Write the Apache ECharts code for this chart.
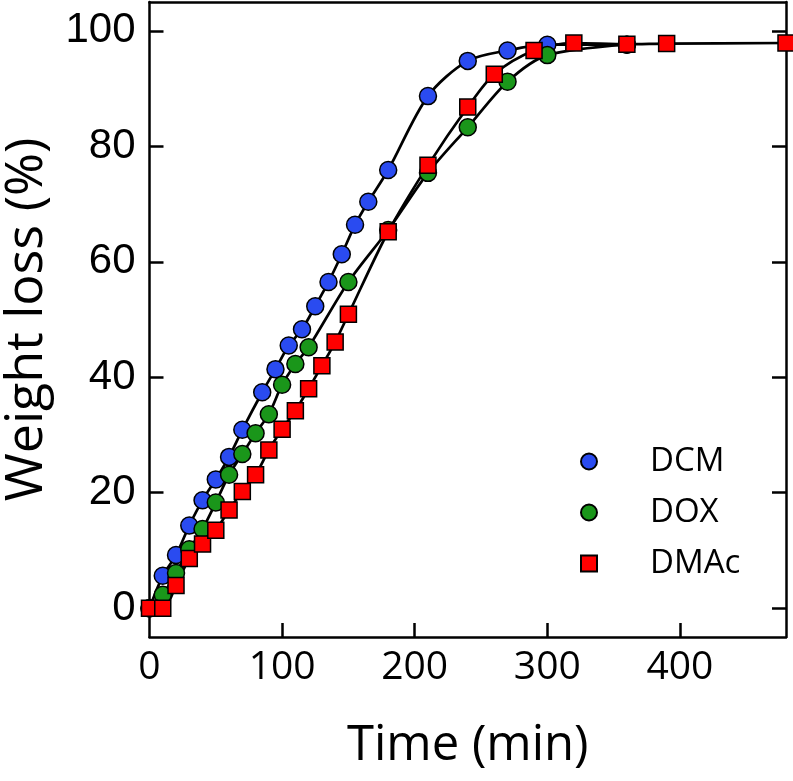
<!DOCTYPE html>
<html>
<head>
<meta charset="utf-8">
<script src="https://cdn.jsdelivr.net/npm/echarts@6/dist/echarts.min.js"></script>
<style>
  html, body { margin: 0; padding: 0; background: #fff; }
  #chart { width: 793px; height: 781px; }
</style>
</head>
<body>
<div id="chart"></div>
<script>
  // values (time in min, weight loss in %)
  const dcmTime = [0, 10, 20, 30, 40, 50, 60, 70, 85, 95, 105, 115, 125, 135, 145, 155, 165, 180, 210, 240, 270, 300, 360]
  const dcmLoss = [0, 5.6, 9.2, 14.3, 18.7, 22.3, 26.2, 30.9, 37.4, 41.4, 45.5, 48.3, 52.3, 56.5, 61.3, 66.4, 70.4, 75.9, 88.7, 94.8, 96.6, 97.6, 97.6]

  const doxTime = [0, 10, 20, 30, 40, 50, 60, 70, 80, 90, 100, 110, 120, 150, 180, 210, 240, 270, 300, 360]
  const doxLoss = [0, 2.3, 6.1, 10.2, 13.7, 18.3, 23.1, 26.7, 30.3, 33.6, 38.7, 42.3, 45.2, 56.5, 65.5, 75.4, 83.3, 91.2, 95.8, 97.6]

  const dmacTime = [0, 10, 20, 30, 40, 50, 60, 70, 80, 90, 100, 110, 120, 130, 140, 150, 180, 210, 240, 260, 290, 320, 360, 390, 480]
  const dmacLoss = [0, 0, 3.9, 8.6, 11.1, 13.5, 17.0, 20.2, 23.1, 27.4, 31.0, 34.2, 38.0, 42.0, 46.1, 50.9, 65.2, 76.7, 86.8, 92.5, 96.6, 97.9, 97.7, 97.8, 97.9]

  const xTicks = [0, 100, 200, 300, 400]
  const yTicks = [0, 20, 40, 60, 80, 100]

  function pairs(xs, ys) {
    return xs.map((x, i) => [x, ys[i]])
  }

  const black = '#000'
  const axisLine = { show: true, onZero: false, lineStyle: { color: black, width: 2.5 } }
  const squareIcon = 'path://M0,0L10,0L10,10L0,10Z'

  function makeSeries(name, xs, ys, symbol, size, color) {
    return {
      name: name,
      type: 'line',
      data: pairs(xs, ys),
      smooth: 0.3,
      clip: false,
      symbol: symbol,
      symbolSize: size,
      showAllSymbol: true,
      itemStyle: { color: color, borderColor: black, borderWidth: 1.5 },
      lineStyle: { color: black, width: 2.7 },
    }
  }

  const chart = echarts.init(document.getElementById('chart'))
  chart.setOption({
    animation: false,
    backgroundColor: '#fff',
    grid: { left: 149.5, right: 7, top: 2, bottom: 144, outerBoundsMode: 'none', containLabel: false },
    legend: {
      orient: 'vertical',
      left: 580,
      top: 445,
      padding: 0,
      itemWidth: 16,
      itemHeight: 16,
      itemGap: 18,
      textStyle: { fontFamily: 'Open Sans', fontSize: 33, color: black, lineHeight: 32, padding: [0, 0, 0, 48] },
      data: [
        { name: 'DCM', icon: 'circle' },
        { name: 'DOX', icon: 'circle' },
        { name: 'DMAc', icon: squareIcon },
      ],
    },
    xAxis: [
      {
        type: 'value',
        min: 0,
        max: 480,
        axisLine: axisLine,
        axisTick: { show: true, inside: true, length: 14, customValues: [100, 200, 300, 400], lineStyle: { color: black, width: 2.5 } },
        axisLabel: { customValues: xTicks, fontFamily: 'Open Sans', fontSize: 39, color: black, margin: 11 },
        splitLine: { show: false },
        name: 'Time (min)',
        nameLocation: 'middle',
        nameGap: 85,
        nameTextStyle: { fontFamily: 'Open Sans', fontSize: 49, color: black },
      },
      {
        type: 'value',
        position: 'top',
        min: 0,
        max: 480,
        axisLine: axisLine,
        axisTick: { show: false },
        axisLabel: { show: false },
        splitLine: { show: false },
      },
    ],
    yAxis: [
      {
        type: 'value',
        min: -5,
        max: 105,
        axisLine: axisLine,
        axisTick: { show: true, inside: true, length: 14, customValues: yTicks, lineStyle: { color: black, width: 2.5 } },
        axisLabel: { customValues: yTicks, fontFamily: 'Liberation Sans', fontSize: 42, color: black, margin: 14 },
        splitLine: { show: false },
        name: 'Weight loss (%)',
        nameLocation: 'middle',
        nameGap: 96,
        nameTextStyle: { fontFamily: 'Open Sans', fontSize: 52, color: black },
      },
      {
        type: 'value',
        position: 'right',
        min: -5,
        max: 105,
        axisLine: axisLine,
        axisTick: { show: true, inside: true, length: 14, customValues: yTicks, lineStyle: { color: black, width: 2.5 } },
        axisLabel: { show: false },
        splitLine: { show: false },
      },
    ],
    series: [
      makeSeries('DCM', dcmTime, dcmLoss, 'circle', 17, '#2a4bf0'),
      makeSeries('DOX', doxTime, doxLoss, 'circle', 17, '#1a961a'),
      makeSeries('DMAc', dmacTime, dmacLoss, squareIcon, 16, '#ff0000'),
    ],
  })
</script>
</body>
</html>
